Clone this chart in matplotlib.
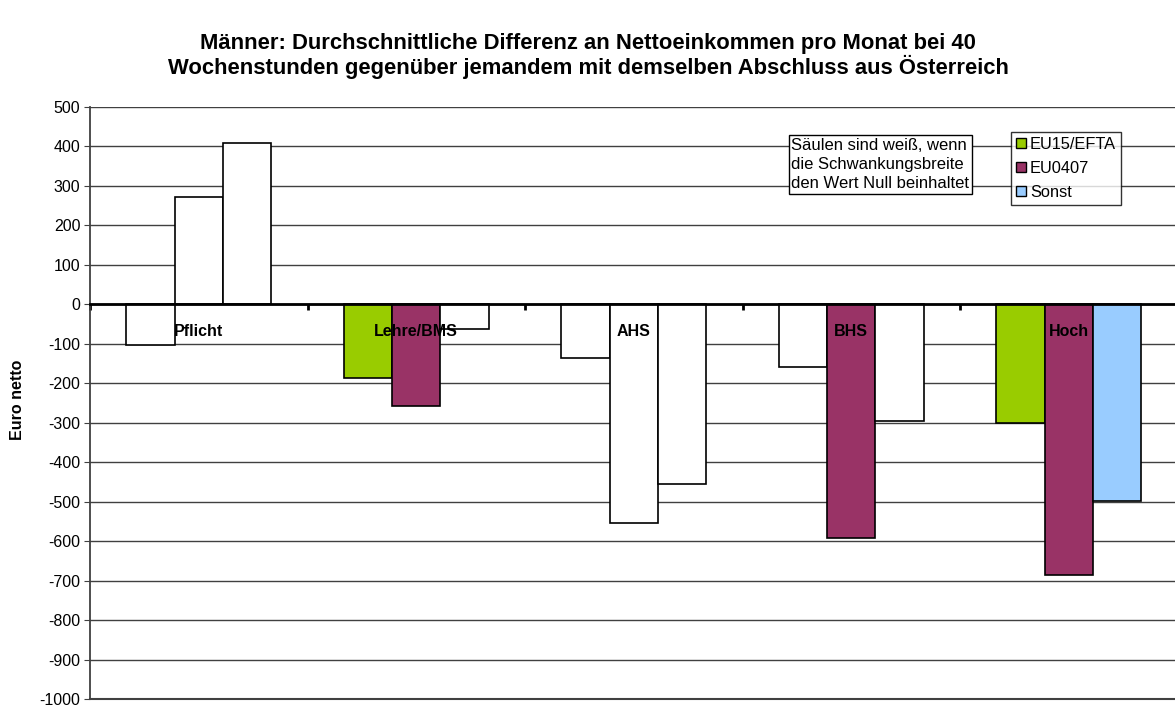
import numpy as np
import matplotlib
matplotlib.use("Agg")
import matplotlib.pyplot as plt
from matplotlib.patches import Patch
from matplotlib.ticker import FuncFormatter

plt.rcParams['font.family'] = ['Liberation Sans', 'DejaVu Sans']

categories = ['Pflicht', 'Lehre/BMS', 'AHS', 'BHS', 'Hoch']
series = ['EU15/EFTA', 'EU0407', 'Sonst']
eu15 = [-103, -187, -137, -158, -300]
eu0407 = [273, -258, -553, -593, -685]
sonst = [410, -63, -456, -296, -499]
# True where the range of variation excludes zero (bar is coloured)
sig_eu15 = [False, True, False, False, True]
sig_eu0407 = [False, True, False, True, True]
sig_sonst = [False, False, False, False, True]
colors = ['#99CC00', '#993366', '#99CCFF']

W, H = 1175, 706
fig = plt.figure(figsize=(W / 100, H / 100), dpi=100)
ax = fig.add_axes([90 / W, 7 / H, 1087.5 / W, 592 / H])

x = np.arange(len(categories))
width = 1 / 4.5
for i, (vals, sig, col) in enumerate(zip([eu15, eu0407, sonst],
                                         [sig_eu15, sig_eu0407, sig_sonst], colors)):
    fc = [col if s else 'white' for s in sig]
    ax.bar(x + (i - 1) * width, vals, width, color=fc, edgecolor='black',
           linewidth=1.2, zorder=3)

ax.set_xlim(-0.5, 4.5)
ax.set_ylim(-1000, 500)
ax.set_yticks(np.arange(-1000, 501, 100))
ax.yaxis.set_major_formatter(FuncFormatter(lambda v, p: f'{int(v)}'))
ax.yaxis.grid(True, color='#404040', linewidth=1, zorder=0)
ax.axhline(-1000, color='#404040', linewidth=1.5, clip_on=False, zorder=1)
ax.set_axisbelow(True)
ax.tick_params(axis='y', labelsize=11.5, direction='out', length=4,
               color='#404040', pad=3)

ax.spines['bottom'].set_position(('data', 0))
ax.spines['bottom'].set_linewidth(2)
ax.spines['bottom'].set_zorder(4)
ax.spines['top'].set_visible(False)
ax.spines['right'].set_visible(False)
ax.spines['left'].set_color('#404040')
ax.spines['left'].set_linewidth(1.3)
ax.set_xticks(np.arange(-0.5, 5, 1))
ax.set_xticklabels([])
ax.tick_params(axis='x', direction='out', length=4, width=2)

for xi, cat in zip(x, categories):
    ax.text(xi, -68, cat, ha='center', va='center', fontsize=11.5,
            fontweight='bold', zorder=5)

fig.text(18 / W, 1 - 400 / H, 'Euro netto', rotation=90, ha='center',
         va='center', fontsize=11.5, fontweight='bold')

fig.text(588 / W, 1 - 56 / H,
         'Männer: Durchschnittliche Differenz an Nettoeinkommen pro Monat bei 40\n'
         'Wochenstunden gegenüber jemandem mit demselben Abschluss aus Österreich',
         ha='center', va='center', fontsize=15.8, fontweight='bold', linespacing=1.0)

fig.text(791 / W, 1 - 164.5 / H,
         'Säulen sind weiß, wenn\ndie Schwankungsbreite\nden Wert Null beinhaltet',
         ha='left', va='center', fontsize=12, linespacing=1.35,
         bbox=dict(boxstyle='square,pad=0.15', facecolor='white',
                   edgecolor='black', linewidth=1), zorder=6)

handles = [Patch(facecolor=c, edgecolor='black', linewidth=1) for c in colors]
leg = fig.legend(handles, series, loc='upper left',
                 bbox_to_anchor=(1011 / W, 1 - 132 / H), fontsize=11.8,
                 frameon=True, fancybox=False, edgecolor='black',
                 handlelength=0.6, handleheight=0.6, handletextpad=0.25,
                 labelspacing=0.55, borderpad=0.3, borderaxespad=0)
leg.get_frame().set_linewidth(1)

fig.savefig('out.png', dpi=100)
